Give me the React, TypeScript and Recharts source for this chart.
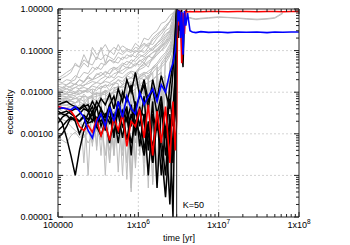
import React from "react";
import { LineChart, Line, XAxis, YAxis, CartesianGrid, ReferenceLine } from "recharts";

// time grid before the K=50 instability, and after it
const preTimes = [100000, 113000, 128000, 145000, 164000, 185000, 210000, 237000, 268000, 303000, 343000, 388000, 439000, 497000, 562000, 636000, 719000, 814000, 921000, 1040000, 1180000, 1330000, 1510000, 1710000, 1930000, 2180000, 2470000, 2700000, 2880000, 3000000];
const postTimes = [3000000, 3080000, 3170000, 3260000, 3360000, 3470000, 3600000, 3750000, 3900000, 4100000, 4400000, 4700000, 5200000, 6000000, 7500000, 10000000, 13000000, 17000000, 22000000, 30000000, 40000000, 50000000, 63000000, 80000000, 100000000];

// grey planets
const g1 = [0.02, 0.022, 0.025, 0.03, 0.05, 0.04, 0.08, 0.05, 0.09, 0.06, 0.12, 0.05, 0.1, 0.08, 0.14, 0.09, 0.11, 0.1, 0.09, 0.12, 0.15, 0.13, 0.2, 0.25, 0.3, 0.4, 0.5, 0.7, 0.9, 1.0];
const g2 = [0.015, 0.016, 0.015, 0.018, 0.02, 0.035, 0.05, 0.04, 0.12, 0.08, 0.1, 0.14, 0.09, 0.12, 0.1, 0.13, 0.11, 0.1, 0.15, 0.12, 0.2, 0.18, 0.25, 0.3, 0.45, 0.5, 0.7, 0.8, 0.95, 1.0];
const g3 = [0.012, 0.013, 0.012, 0.014, 0.016, 0.02, 0.018, 0.025, 0.03, 0.04, 0.035, 0.05, 0.06, 0.05, 0.07, 0.06, 0.08, 0.07, 0.1, 0.09, 0.12, 0.15, 0.14, 0.2, 0.25, 0.35, 0.5, 0.6, 0.85, 1.0];
const g4 = [0.01, 0.011, 0.012, 0.011, 0.013, 0.015, 0.014, 0.018, 0.02, 0.022, 0.025, 0.03, 0.028, 0.035, 0.04, 0.05, 0.045, 0.06, 0.055, 0.07, 0.08, 0.1, 0.12, 0.15, 0.18, 0.25, 0.3, 0.45, 0.7, 1.0];
const g5 = [0.009, 0.01, 0.009, 0.011, 0.01, 0.012, 0.013, 0.012, 0.015, 0.017, 0.016, 0.02, 0.025, 0.022, 0.03, 0.028, 0.035, 0.04, 0.05, 0.045, 0.06, 0.07, 0.09, 0.1, 0.12, 0.15, 0.2, 0.3, 0.6, 0.9];
const g6 = [0.008, 0.0085, 0.009, 0.0085, 0.01, 0.009, 0.011, 0.01, 0.012, 0.011, 0.014, 0.013, 0.016, 0.015, 0.02, 0.018, 0.025, 0.022, 0.03, 0.035, 0.04, 0.05, 0.06, 0.08, 0.1, 0.12, 0.18, 0.25, 0.5, 0.8];
const g7 = [0.007, 0.0072, 0.007, 0.0065, 0.008, 0.006, 0.009, 0.007, 0.0005, 0.01, 0.008, 0.011, 0.009, 0.0003, 0.012, 0.014, 0.012, 0.016, 0.0002, 0.02, 0.025, 0.02, 0.03, 0.04, 0.0004, 0.06, 0.08, 0.15, 0.4, 0.9];
const g8 = [0.006, 0.0062, 0.0065, 0.006, 0.0055, 0.007, 0.006, 0.0075, 0.008, 0.0004, 0.009, 0.01, 0.008, 0.011, 0.01, 0.0001, 0.013, 0.015, 0.014, 0.018, 0.0002, 0.025, 0.03, 0.00008, 0.05, 0.07, 0.1, 0.2, 0.5, 1.0];
const g9 = [0.005, 0.005, 0.0048, 0.0045, 0.005, 0.0042, 0.0055, 0.005, 0.006, 0.0055, 0.0003, 0.007, 0.0065, 0.008, 0.00012, 0.009, 0.01, 0.0001, 0.012, 0.015, 0.013, 0.00005, 0.02, 0.025, 0.03, 0.0002, 0.05, 0.1, 0.3, 0.8];
const g10 = [0.004, 0.0035, 0.003, 0.0025, 0.002, 0.0018, 0.0015, 0.002, 0.0025, 0.0012, 0.003, 0.0028, 0.0035, 0.0003, 0.004, 0.005, 0.0045, 0.006, 0.00015, 0.008, 0.01, 0.009, 0.00007, 0.015, 0.02, 0.025, 0.00004, 0.06, 0.2, 0.7];
const g11 = [0.0008, 0.0007, 0.0006, 0.0009, 0.0011, 0.0008, 0.001, 0.0006, 0.0009, 0.0012, 0.0007, 0.0015, 0.0004, 0.002, 0.0018, 0.0003, 0.0025, 0.003, 0.0006, 0.004, 0.005, 0.0004, 0.007, 0.009, 0.0003, 0.015, 0.02, 0.05, 0.3, 0.9];
const g12 = [0.003, 0.0028, 0.0025, 0.002, 0.0022, 0.0015, 0.0012, 0.0018, 0.0008, 0.0022, 0.0025, 0.0003, 0.003, 0.0035, 0.0025, 0.004, 0.0002, 0.0045, 0.005, 0.006, 0.0001, 0.008, 0.01, 0.012, 0.015, 0.00003, 0.03, 0.08, 0.4, 1.0];
const g13 = [0.0065, 0.007, 0.0075, 0.008, 0.0085, 0.009, 0.01, 0.011, 0.009, 0.013, 0.012, 0.015, 0.011, 0.016, 0.02, 0.015, 0.025, 0.03, 0.022, 0.04, 0.05, 0.04, 0.07, 0.09, 0.12, 0.16, 0.22, 0.35, 0.6, 0.9];
const g14 = [0.0045, 0.0048, 0.005, 0.0052, 0.0055, 0.006, 0.005, 0.007, 0.0075, 0.006, 0.0085, 0.009, 0.007, 0.011, 0.012, 0.009, 0.016, 0.018, 0.014, 0.024, 0.028, 0.02, 0.04, 0.05, 0.07, 0.09, 0.14, 0.25, 0.55, 0.95];
const g15 = [0.011, 0.012, 0.014, 0.013, 0.016, 0.014, 0.018, 0.022, 0.02, 0.026, 0.03, 0.025, 0.035, 0.04, 0.035, 0.045, 0.055, 0.05, 0.065, 0.08, 0.07, 0.09, 0.11, 0.13, 0.16, 0.22, 0.3, 0.5, 0.8, 1.0];
const g16 = [0.0055, 0.006, 0.0058, 0.0065, 0.007, 0.0068, 0.008, 0.0075, 0.0085, 0.009, 0.0095, 0.011, 0.0105, 0.013, 0.0125, 0.015, 0.017, 0.016, 0.02, 0.023, 0.027, 0.032, 0.038, 0.045, 0.06, 0.08, 0.12, 0.2, 0.45, 0.85];
const g17 = [0.018, 0.017, 0.02, 0.019, 0.025, 0.022, 0.03, 0.028, 0.04, 0.035, 0.05, 0.045, 0.06, 0.055, 0.05, 0.07, 0.065, 0.08, 0.07, 0.1, 0.09, 0.12, 0.1, 0.15, 0.2, 0.3, 0.35, 0.6, 0.8, 1.0];
const g18 = [0.014, 0.013, 0.015, 0.017, 0.015, 0.02, 0.017, 0.024, 0.02, 0.028, 0.025, 0.032, 0.027, 0.04, 0.03, 0.045, 0.038, 0.05, 0.042, 0.06, 0.05, 0.075, 0.065, 0.1, 0.13, 0.17, 0.25, 0.4, 0.7, 0.95];
const g19 = [0.0085, 0.009, 0.0095, 0.01, 0.0092, 0.011, 0.0105, 0.012, 0.0115, 0.0005, 0.013, 0.015, 0.014, 0.017, 0.016, 0.0004, 0.02, 0.022, 0.021, 0.026, 0.03, 0.028, 0.035, 0.045, 0.0006, 0.07, 0.1, 0.18, 0.45, 0.9];
const g20 = [0.0068, 0.0066, 0.007, 0.0075, 0.007, 0.008, 0.0078, 0.0001, 0.009, 0.0095, 0.009, 0.011, 0.0002, 0.012, 0.014, 0.013, 0.016, 0.00005, 0.019, 0.022, 0.02, 0.026, 0.0003, 0.035, 0.045, 0.06, 0.09, 0.15, 0.35, 0.75];
const g21 = [0.005, 0.0052, 0.0058, 0.0062, 0.0056, 0.0065, 0.0002, 0.007, 0.0075, 0.008, 0.0085, 0.0001, 0.009, 0.01, 0.0095, 0.012, 0.00008, 0.014, 0.016, 0.015, 0.019, 0.023, 0.00006, 0.03, 0.04, 0.05, 0.075, 0.12, 0.3, 0.7];
const g22 = [0.0038, 0.004, 0.0042, 0.0045, 0.004, 0.005, 0.0048, 0.0055, 0.0006, 0.006, 0.0065, 0.007, 0.0068, 0.0004, 0.008, 0.009, 0.0085, 0.01, 0.012, 0.0003, 0.015, 0.017, 0.02, 0.025, 0.03, 0.0001, 0.05, 0.09, 0.25, 0.8];
const g23 = [0.022, 0.025, 0.03, 0.035, 0.045, 0.04, 0.06, 0.05, 0.045, 0.07, 0.06, 0.08, 0.07, 0.06, 0.09, 0.08, 0.1, 0.09, 0.12, 0.11, 0.14, 0.12, 0.18, 0.22, 0.3, 0.35, 0.5, 0.75, 0.9, 1.0];
const g24 = [0.0025, 0.0022, 0.002, 0.0015, 0.0012, 0.001, 0.0008, 0.0012, 0.0006, 0.0015, 0.0018, 0.002, 0.0002, 0.0025, 0.003, 0.0028, 0.0035, 0.00004, 0.004, 0.005, 0.0045, 0.006, 0.007, 0.00015, 0.01, 0.012, 0.02, 0.04, 0.15, 0.6];

// the two grey survivors
const s1Pre = [0.0075, 0.008, 0.0078, 0.009, 0.0095, 0.011, 0.01, 0.012, 0.014, 0.013, 0.016, 0.018, 0.017, 0.02, 0.024, 0.022, 0.028, 0.032, 0.03, 0.04, 0.045, 0.055, 0.065, 0.08, 0.1, 0.14, 0.2, 0.35, 0.7, 1.0];
const s1Post = [1.0, 0.7, 0.95, 0.5, 0.9, 0.6, 0.85, 0.62, 0.6, 0.62, 0.6, 0.58, 0.56, 0.58, 0.6, 0.63, 0.62, 0.6, 0.57, 0.55, 0.57, 0.6, 0.78];
const s2Pre = [0.0105, 0.011, 0.01, 0.012, 0.013, 0.012, 0.015, 0.016, 0.018, 0.017, 0.021, 0.024, 0.022, 0.028, 0.03, 0.034, 0.04, 0.038, 0.046, 0.055, 0.065, 0.075, 0.09, 0.11, 0.14, 0.2, 0.28, 0.45, 0.75, 0.9];
const s2Post = [0.9, 0.6, 0.9, 0.7, 0.8, 0.55, 0.75, 0.6, 0.62, 0.6, 0.63, 0.6, 0.58, 0.6, 0.62, 0.65, 0.63, 0.61, 0.59, 0.57, 0.59, 0.62, 0.82];

// black planets
const b1 = [0.0025, 0.0018, 0.0008, 0.0003, 0.0001, 0.0004, 0.0012, 0.002, 0.003, 0.0015, 0.0009, 0.002, 0.0006, 0.0025, 0.001, 0.0035, 0.0007, 0.003, 0.0012, 0.0045, 0.0004, 0.002, 0.0002, 0.003, 0.0001, 0.0015, 0.00002, 0.001, 0.003, 0.4];
const b2 = [0.0008, 0.001, 0.0015, 0.0025, 0.002, 0.001, 0.0018, 0.003, 0.0045, 0.002, 0.004, 0.0012, 0.005, 0.002, 0.003, 0.0008, 0.004, 0.0015, 0.006, 0.0005, 0.003, 0.001, 0.0002, 0.002, 0.0004, 0.00003, 0.001, 0.004, 0.02, 0.8];
const b3Pre = [0.0018, 0.0025, 0.003, 0.0035, 0.004, 0.0038, 0.0045, 0.005, 0.003, 0.006, 0.004, 0.0025, 0.005, 0.008, 0.003, 0.01, 0.006, 0.015, 0.004, 0.008, 0.02, 0.006, 0.012, 0.003, 0.008, 0.001, 0.015, 0.05, 0.2, 1.0];
const b3Post = [1.0, 0.5, 0.95, 0.3, 0.9, 0.1, 0.04, 0.6, 0.9];
const b4 = [0.0035, 0.003, 0.0028, 0.0022, 0.0025, 0.003, 0.004, 0.0035, 0.002, 0.0045, 0.0015, 0.003, 0.0025, 0.001, 0.004, 0.0015, 0.0025, 0.0006, 0.002, 0.001, 0.0003, 0.0015, 0.0005, 0.0025, 0.0008, 0.0001, 0.003, 0.0002, 0.01, 0.6];
const b5Pre = [0.005, 0.0055, 0.006, 0.005, 0.0045, 0.004, 0.005, 0.0035, 0.006, 0.004, 0.007, 0.005, 0.009, 0.004, 0.012, 0.006, 0.02, 0.01, 0.03, 0.008, 0.015, 0.004, 0.02, 0.007, 0.025, 0.01, 0.004, 0.03, 0.3, 1.0];
const b5Post = [1.0, 0.8, 0.2, 0.9, 0.4, 0.95];
const b6 = [0.003, 0.0032, 0.0035, 0.003, 0.0025, 0.002, 0.0028, 0.0022, 0.0035, 0.0015, 0.003, 0.002, 0.004, 0.0008, 0.006, 0.0025, 0.0045, 0.0003, 0.005, 0.0015, 0.008, 0.0004, 0.006, 0.00005, 0.004, 0.0008, 0.007, 0.0015, 0.05, 0.9];
const b7 = [0.0012, 0.0015, 0.002, 0.0025, 0.0022, 0.002, 0.0025, 0.0018, 0.002, 0.0025, 0.002, 0.003, 0.0018, 0.003, 0.0006, 0.0035, 0.002, 0.005, 0.0009, 0.004, 0.0025, 0.0001, 0.003, 0.0012, 0.006, 0.0003, 0.002, 0.00001, 0.02, 1.0];

// red and blue planets
const redPre = [0.0045, 0.0042, 0.004, 0.0035, 0.0025, 0.0015, 0.0012, 0.0016, 0.0011, 0.0022, 0.0009, 0.0018, 0.0007, 0.0025, 0.0012, 0.003, 0.0005, 0.002, 0.0015, 0.004, 0.0008, 0.005, 0.0003, 0.0035, 0.0006, 0.0045, 0.0002, 0.006, 0.0004, 0.002];
const redPost = [0.002, 0.9, 0.4, 0.95, 0.6, 0.05, 0.8, 0.25, 0.9, 0.85, 0.87, 0.86, 0.87, 0.86, 0.87, 0.87, 0.86, 0.87, 0.87, 0.86, 0.87, 0.87, 0.86, 0.87, 0.87];
const bluePre = [0.004, 0.0042, 0.004, 0.0038, 0.0045, 0.0035, 0.0025, 0.0012, 0.0008, 0.002, 0.003, 0.0015, 0.0045, 0.002, 0.006, 0.0025, 0.008, 0.004, 0.003, 0.01, 0.005, 0.008, 0.012, 0.006, 0.015, 0.01, 0.03, 0.05, 0.1, 0.3];
const bluePost = [0.3, 0.95, 0.5, 0.9, 0.2, 0.85, 0.08, 0.9, 0.4, 0.8, 0.3, 0.28, 0.27, 0.285, 0.275, 0.28, 0.27, 0.28, 0.275, 0.28, 0.27, 0.28, 0.275, 0.28, 0.28];

const xMajor = [1e5, 1e6, 1e7, 1e8];
const yMajor = [1e-5, 1e-4, 1e-3, 1e-2, 1e-1, 1];
const minorMult = [2, 3, 4, 5, 6, 7, 8, 9];

const withMinors = (majors: number[]) => {
  const out: number[] = [];
  majors.forEach((m, i) => {
    out.push(m);
    if (i < majors.length - 1) minorMult.forEach((k) => out.push(m * k));
  });
  return out;
};
const xTicks = withMinors(xMajor);
const yTicks = withMinors(yMajor);

const toPoints = (times: number[], vals: number[]) => vals.map((e, i) => ({ t: times[i], e }));

const grayRuns = [g11, g24, g12, g10, g22, g9, g21, g14, g8, g16, g20, g7, g13, g19, g6, g5, g4, g15, g18, g3, g17, g2, g1, g23];
const blackRuns = [
  toPoints(preTimes, b1),
  toPoints(preTimes, b2),
  toPoints(preTimes, b7),
  toPoints(preTimes, b6),
  toPoints(preTimes, b3Pre).concat(toPoints(postTimes, b3Post)),
  toPoints(preTimes, b4),
  toPoints(preTimes, b5Pre).concat(toPoints(postTimes, b5Post)),
];
const survivors = [
  toPoints(preTimes, s1Pre).concat(toPoints(postTimes, s1Post)),
  toPoints(preTimes, s2Pre).concat(toPoints(postTimes, s2Post)),
];
const red = toPoints(preTimes, redPre).concat(toPoints(postTimes, redPost));
const blue = toPoints(preTimes, bluePre).concat(toPoints(postTimes, bluePost));

const FONT = "'Liberation Sans', Arial, sans-serif";
const FRAME = "#222";

const isMajor = (v: number) => Math.abs(Math.log10(v) - Math.round(Math.log10(v))) < 1e-6;

const BottomTick = ({ x, y, payload }: any) => {
  const v = payload.value;
  const major = isMajor(v);
  const exp = Math.round(Math.log10(v));
  return (
    <g>
      <line x1={x} x2={x} y1={y} y2={y - (major ? 5 : 3)} stroke={FRAME} />
      {major && (
        <text x={x} y={y + 10.5} textAnchor="middle" fontSize={9} fontFamily={FONT} fill="#000">
          {exp === 5 ? "100000" : "1x10"}
          {exp !== 5 && (
            <tspan fontSize={6.5} dy={-4}>
              {exp}
            </tspan>
          )}
        </text>
      )}
    </g>
  );
};

const TopTick = ({ x, y, payload }: any) => (
  <line x1={x} x2={x} y1={y} y2={y + (isMajor(payload.value) ? 5 : 3)} stroke={FRAME} />
);

const LeftTick = ({ x, y, payload }: any) => {
  const v = payload.value;
  const major = isMajor(v);
  return (
    <g>
      <line x1={x} x2={x + (major ? 5 : 3)} y1={y} y2={y} stroke={FRAME} />
      {major && (
        <text x={x - 5} y={y} dy={3} textAnchor="end" fontSize={9} fontFamily={FONT} fill="#000">
          {v.toFixed(5)}
        </text>
      )}
    </g>
  );
};

const RightTick = ({ x, y, payload }: any) => (
  <line x1={x} x2={x - (isMajor(payload.value) ? 5 : 3)} y1={y} y2={y} stroke={FRAME} />
);

const KLabel = ({ viewBox }: any) => (
  <text x={viewBox.x + 6} y={viewBox.y + viewBox.height - 9} fontSize={9} fontFamily={FONT} fill="#000">
    K=50
  </text>
);

export default function App() {
  return (
    <div style={{ position: "absolute", left: 0, top: 0, width: 350, height: 245, background: "#fff" }}>
      <LineChart width={350} height={245} margin={{ top: 8, right: 50, bottom: 27, left: 57 }}>
        <CartesianGrid
          xAxisId="b"
          yAxisId="l"
          horizontalValues={[1e-4, 1e-3, 1e-2, 1e-1]}
          verticalValues={[1e6, 1e7]}
          stroke="#d4d4d4"
          strokeDasharray="2 2"
        />
        <XAxis
          xAxisId="b"
          dataKey="t"
          type="number"
          scale="log"
          domain={[1e5, 1e8]}
          allowDataOverflow
          ticks={xTicks}
          interval={0}
          height={1}
          tickSize={0}
          tickMargin={0}
          tickLine={false}
          tick={<BottomTick />}
          axisLine={{ stroke: FRAME }}
        />
        <XAxis
          xAxisId="t"
          orientation="top"
          dataKey="t"
          type="number"
          scale="log"
          domain={[1e5, 1e8]}
          allowDataOverflow
          ticks={xTicks}
          interval={0}
          height={1}
          tickSize={0}
          tickMargin={0}
          tickLine={false}
          tick={<TopTick />}
          axisLine={{ stroke: FRAME }}
        />
        <YAxis
          yAxisId="l"
          type="number"
          scale="log"
          domain={[1e-5, 1]}
          allowDataOverflow
          ticks={yTicks}
          interval={0}
          width={1}
          tickSize={0}
          tickMargin={0}
          tickLine={false}
          tick={<LeftTick />}
          axisLine={{ stroke: FRAME }}
        />
        <YAxis
          yAxisId="r"
          orientation="right"
          type="number"
          scale="log"
          domain={[1e-5, 1]}
          allowDataOverflow
          ticks={yTicks}
          interval={0}
          width={1}
          tickSize={0}
          tickMargin={0}
          tickLine={false}
          tick={<RightTick />}
          axisLine={{ stroke: FRAME }}
        />
        {grayRuns.map((vals, i) => (
          <Line
            key={"g" + i}
            xAxisId="b"
            yAxisId="l"
            data={toPoints(preTimes, vals)}
            dataKey="e"
            stroke="#bdbdbd"
            strokeWidth={1}
            dot={false}
            isAnimationActive={false}
          />
        ))}
        {survivors.map((pts, i) => (
          <Line
            key={"s" + i}
            xAxisId="b"
            yAxisId="l"
            data={pts}
            dataKey="e"
            stroke="#bdbdbd"
            strokeWidth={1}
            dot={false}
            isAnimationActive={false}
          />
        ))}
        {blackRuns.map((pts, i) => (
          <Line
            key={"b" + i}
            xAxisId="b"
            yAxisId="l"
            data={pts}
            dataKey="e"
            stroke="#000"
            strokeWidth={1.5}
            dot={false}
            isAnimationActive={false}
          />
        ))}
        <Line xAxisId="b" yAxisId="l" data={red} dataKey="e" stroke="#ff0000" strokeWidth={1.6} dot={false} isAnimationActive={false} />
        <Line xAxisId="b" yAxisId="l" data={blue} dataKey="e" stroke="#0000ff" strokeWidth={1.6} dot={false} isAnimationActive={false} />
        <ReferenceLine xAxisId="b" yAxisId="l" x={3e6} stroke={FRAME} strokeWidth={1} label={<KLabel />} />
      </LineChart>
      <div
        style={{
          position: "absolute",
          left: 10,
          top: 112,
          transform: "translate(-50%, -50%) rotate(-90deg)",
          fontFamily: FONT,
          fontSize: 9,
          whiteSpace: "nowrap",
        }}
      >
        eccentricity
      </div>
      <div
        style={{
          position: "absolute",
          left: 179,
          top: 233,
          transform: "translateX(-50%)",
          fontFamily: FONT,
          fontSize: 9,
          whiteSpace: "nowrap",
        }}
      >
        time [yr]
      </div>
    </div>
  );
}
